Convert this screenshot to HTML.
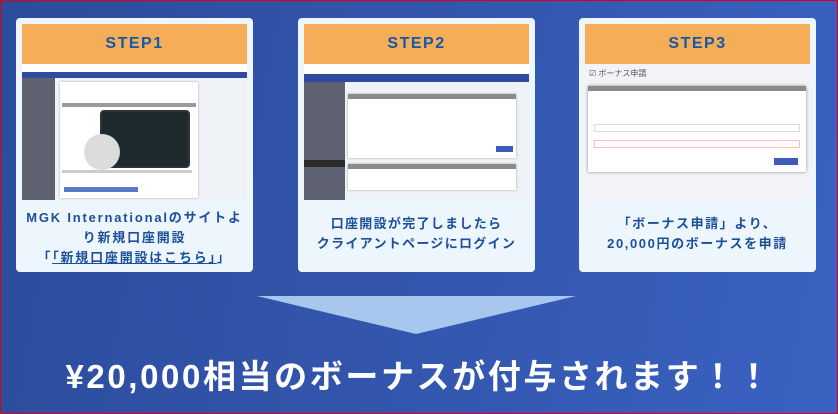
<!DOCTYPE html>
<html><head><meta charset="utf-8"><style>
*{margin:0;padding:0;box-sizing:border-box}
body{width:838px;height:414px;overflow:hidden;font-family:"Liberation Sans","Noto Sans CJK JP",sans-serif}
#bg{position:absolute;left:0;top:0;width:838px;height:414px;background:linear-gradient(100deg,#2c4c9c 0%,#3356ad 50%,#3a62c2 100%);border:1px solid #e00010}
.card{position:absolute;top:18px;width:237px;height:254px;background:#eef6fd;border-radius:4px}
.hd{position:absolute;left:6px;top:6px;width:225px;height:40px;background:#f6ad58;color:#1558a8;font-weight:bold;font-size:16px;letter-spacing:1.5px;text-align:center;line-height:40px}
.shot{position:absolute;left:6px;top:46px;width:225px;height:136px;background:#f1f3f6;overflow:hidden}
.txt{position:absolute;left:-10px;width:257px;top:190px;text-align:center;color:#1b4f9a;font-weight:bold;font-size:13px;line-height:20px;letter-spacing:1.3px}
.abs{position:absolute}
</style></head><body>
<div id="bg"></div>

<div class="card" style="left:16px">
 <div class="hd">STEP1</div>
 <div class="shot" style="background:#fff">
  <div class="abs" style="left:0;top:8px;width:225px;height:6px;background:#2f4aa0"></div>
  <div class="abs" style="left:0;top:14px;width:33px;height:122px;background:#5d6170"></div>
  <div class="abs" style="left:33px;top:14px;width:192px;height:122px;background:#eff2f6"></div>
  <div class="abs" style="left:38px;top:18px;width:138px;height:116px;background:#fff;box-shadow:0 0 2px #aaa"></div>
  <div class="abs" style="left:40px;top:39px;width:134px;height:4px;background:#9a9a9a"></div>
  <div class="abs" style="left:78px;top:46px;width:90px;height:58px;background:#1e2a2e;border-radius:4px;border:2px solid #333"></div>
  <div class="abs" style="left:62px;top:70px;width:36px;height:36px;background:#dcdcdc;border-radius:50%"></div>
  <div class="abs" style="left:40px;top:106px;width:130px;height:3px;background:#ccc"></div>
  <div class="abs" style="left:42px;top:123px;width:74px;height:5px;background:#5a78c8"></div>
 </div>
 <div class="txt" style="letter-spacing:1.8px">MGK Internationalのサイトよ<br>り新規口座開設<br>「<u>「新規口座開設はこちら」</u>」</div>
</div>

<div class="card" style="left:298px">
 <div class="hd">STEP2</div>
 <div class="shot" style="background:#fff">
  <div class="abs" style="left:0;top:10px;width:225px;height:8px;background:#2f4aa0"></div>
  <div class="abs" style="left:0;top:18px;width:41px;height:118px;background:#5d6170"></div>
  <div class="abs" style="left:0;top:96px;width:41px;height:7px;background:#2a2a2a"></div>
  <div class="abs" style="left:41px;top:18px;width:184px;height:118px;background:#eff2f6"></div>
  <div class="abs" style="left:44px;top:30px;width:168px;height:64px;background:#fff;box-shadow:0 0 2px #999"></div>
  <div class="abs" style="left:44px;top:30px;width:168px;height:5px;background:#8a8a8a"></div>
  <div class="abs" style="left:192px;top:82px;width:17px;height:6px;background:#3d5bb8"></div>
  <div class="abs" style="left:44px;top:100px;width:168px;height:26px;background:#fff;box-shadow:0 0 2px #999"></div>
  <div class="abs" style="left:44px;top:100px;width:168px;height:5px;background:#8a8a8a"></div>
 </div>
 <div class="txt" style="top:196px">口座開設が完了しましたら<br>クライアントページにログイン</div>
</div>

<div class="card" style="left:579px">
 <div class="hd">STEP3</div>
 <div class="shot">
  <div class="abs" style="left:4px;top:4px;font-size:8px;color:#555">☑ ボーナス申請</div>
  <div class="abs" style="left:3px;top:22px;width:218px;height:86px;background:#fff;box-shadow:0 0 3px #888"></div>
  <div class="abs" style="left:3px;top:22px;width:218px;height:5px;background:#8a8a8a"></div>
  <div class="abs" style="left:9px;top:76px;width:206px;height:8px;border:1px solid #f4c0b8"></div>
  <div class="abs" style="left:9px;top:60px;width:206px;height:8px;border:1px solid #ddd"></div>
  <div class="abs" style="left:189px;top:94px;width:24px;height:7px;background:#3d5bb8"></div>
 </div>
 <div class="txt" style="top:196px;letter-spacing:1.6px">「ボーナス申請」より、<br>20,000円のボーナスを申請</div>
</div>

<svg class="abs" style="left:0;top:0" width="838" height="414"><polygon points="257,296 576,296 416,334" fill="#a7c7ef"/></svg>
<div class="abs" style="left:-20px;top:356px;width:878px;text-align:center;color:#fff;font-weight:bold;font-size:33px;line-height:42px;letter-spacing:2.6px">¥20,000相当のボーナスが付与されます！！</div>
</body></html>
